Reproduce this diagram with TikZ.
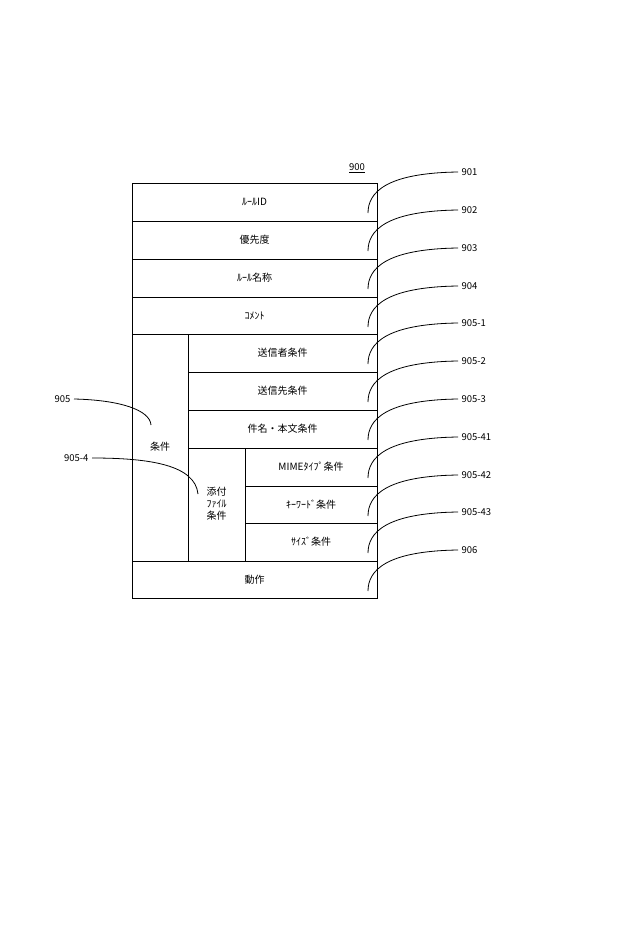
\documentclass[tikz,border=0pt]{standalone}
\usepackage{fontspec}
\setmainfont{Noto Sans CJK JP}
\begin{document}
\begin{tikzpicture}[x=1pt,y=-1pt,
  cell/.style={draw,thick,minimum height=38pt,inner sep=0pt,font=\fontsize{10}{12}\selectfont},
  lbl/.style={font=\fontsize{9.5}{11}\selectfont,anchor=west},
  lead/.style={thick}]
\useasboundingbox (0,0) rectangle (640,932);
\node[draw=none,font=\fontsize{9.5}{11}\selectfont] (t900) at (357,168) {\underline{900}};
\draw[thick] (132,183) rectangle (377,598);
\foreach \y in {221,259,297,334,561} \draw[thick] (132,\y) -- (377,\y);
\foreach \y in {372,410,448} \draw[thick] (188,\y) -- (377,\y);
\foreach \y in {486,523} \draw[thick] (245,\y) -- (377,\y);
\draw[thick] (188,334) -- (188,561);
\draw[thick] (245,448) -- (245,561);
\node (r1) at (254.5,202) {\fontsize{10}{12}\selectfont ﾙｰﾙID};
\node (r2) at (254.5,240) {\fontsize{10}{12}\selectfont 優先度};
\node (r3) at (254.5,278) {\fontsize{10}{12}\selectfont ﾙｰﾙ名称};
\node (r4) at (254.5,315.5) {\fontsize{10}{12}\selectfont ｺﾒﾝﾄ};
\node (r51) at (282.5,353) {\fontsize{10}{12}\selectfont 送信者条件};
\node (r52) at (282.5,391) {\fontsize{10}{12}\selectfont 送信先条件};
\node (r53) at (282.5,429) {\fontsize{10}{12}\selectfont 件名・本文条件};
\node (r541) at (311,467) {\fontsize{10}{12}\selectfont MIMEﾀｲﾌﾟ条件};
\node (r542) at (311,504.5) {\fontsize{10}{12}\selectfont ｷｰﾜｰﾄﾞ条件};
\node (r543) at (311,542) {\fontsize{10}{12}\selectfont ｻｲｽﾞ条件};
\node (r6) at (254.5,579.5) {\fontsize{10}{12}\selectfont 動作};
\node (c5) at (160,447) {\fontsize{10}{12}\selectfont 条件};
\node[align=center] (c54) at (216.5,504) {\fontsize{10}{13}\selectfont 添付\\ﾌｧｲﾙ\\条件};
\foreach \n/\y/\t in {a/183/901,b/221/902,c/259/903,d/297/904,e/334/905-1,f/372/905-2,g/410/905-3,h/448/905-41,i/486/905-42,j/523/905-43,k/561/906}{
  \node[lbl] (L\n) at (458,\y-11) {\t};
  \coordinate (S\n) at (368,\y+30);
  \draw[lead] (S\n) .. controls (368,\y+10) and (385,\y-10) .. (L\n.west);
}
\node[font=\fontsize{9.5}{11}\selectfont,anchor=east] (L905) at (74,399) {905};
\coordinate (E905) at (151,425);
\draw[lead] (L905.east) .. controls (120,400) and (150,410) .. (E905);
\node[font=\fontsize{9.5}{11}\selectfont,anchor=east] (L9054) at (92,458) {905-4};
\coordinate (E9054) at (198,494);
\draw[lead] (L9054.east) .. controls (150,458) and (195,465) .. (E9054);
\end{tikzpicture}
\end{document}
